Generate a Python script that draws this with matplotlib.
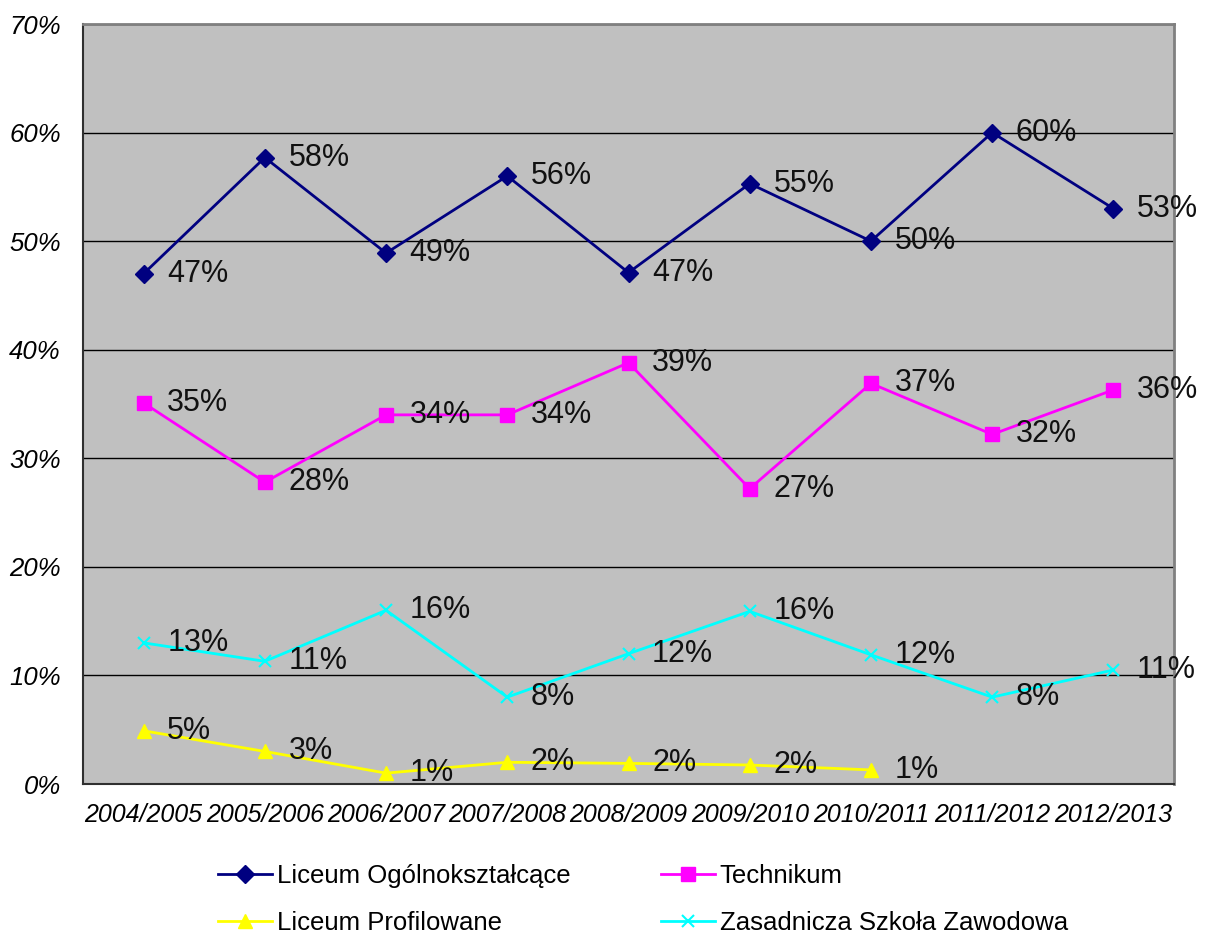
import matplotlib.pyplot as plt
from matplotlib.ticker import MultipleLocator, FuncFormatter

plt.rcParams['font.family'] = ['Liberation Sans', 'DejaVu Sans']

years = ['2004/2005', '2005/2006', '2006/2007', '2007/2008', '2008/2009',
         '2009/2010', '2010/2011', '2011/2012', '2012/2013']

# shares in percent
liceum_ogolne = [47.0, 57.7, 48.9, 56.0, 47.1, 55.3, 50.0, 60.0, 53.0]
technikum = [35.1, 27.8, 34.0, 34.0, 38.8, 27.2, 36.9, 32.2, 36.3]
liceum_prof = [4.9, 3.0, 1.0, 2.0, 1.9, 1.75, 1.3]
zasadnicza = [13.0, 11.3, 16.0, 8.0, 12.0, 15.9, 11.9, 8.0, 10.5]

series = [
    ('Liceum Ogólnokształcące', liceum_ogolne, '#000080', 'D', 9),
    ('Technikum', technikum, '#FF00FF', 's', 10),
    ('Liceum Profilowane', liceum_prof, '#FFFF00', '^', 10),
    ('Zasadnicza Szkoła Zawodowa', zasadnicza, '#00FFFF', 'x', 9),
]

fig = plt.figure(figsize=(12.05, 9.33), dpi=100)
ax = fig.add_axes([83 / 1205, 1 - 784 / 933, 1091 / 1205, 760 / 933])
ax.set_facecolor('#C0C0C0')

lines = {}
for name, vals, col, mk, ms in series:
    xs = list(range(len(vals)))
    ln, = ax.plot(xs, vals, color=col, marker=mk, markersize=ms, lw=2,
                  markeredgewidth=1.5 if mk == 'x' else 1, label=name, zorder=3)
    lines[name] = ln
    for x, v in zip(xs, vals):
        ax.annotate(f'{int(v + 0.5)}%', (x, v), xytext=(17, 0),
                    textcoords='offset points', va='center', ha='left',
                    fontsize=22, color='#111111', zorder=4,
                    annotation_clip=False)

ax.set_xlim(-0.5, len(years) - 0.5)
ax.set_ylim(0, 70)
ax.yaxis.set_major_locator(MultipleLocator(10))
ax.yaxis.set_major_formatter(FuncFormatter(lambda v, p: f'{v:.0f}%'))
ax.set_xticks(range(len(years)))
ax.set_xticklabels(years)
ax.grid(axis='y', color='black', lw=1, zorder=1)
ax.set_axisbelow(True)
ax.tick_params(axis='x', length=0, labelsize=18, pad=14)
ax.tick_params(axis='y', length=0, labelsize=18.5, pad=16)
for lab in ax.get_xticklabels() + ax.get_yticklabels():
    lab.set_fontstyle('italic')

for s in ['top', 'right']:
    ax.spines[s].set_color('#808080')
    ax.spines[s].set_linewidth(2)
for s in ['left', 'bottom']:
    ax.spines[s].set_color('#303030')
    ax.spines[s].set_linewidth(1.5)

# legend filled row by row like the original
order = ['Liceum Ogólnokształcące', 'Liceum Profilowane',
         'Technikum', 'Zasadnicza Szkoła Zawodowa']
fig.legend([lines[n] for n in order], order, ncol=2, loc='upper left',
           bbox_to_anchor=(195 / 1205, 1 - 841 / 933), frameon=False,
           fontsize=18.5, handlelength=2.1, handletextpad=0.2,
           columnspacing=3.5, labelspacing=0.9)

fig.savefig('out.png', dpi=100)
